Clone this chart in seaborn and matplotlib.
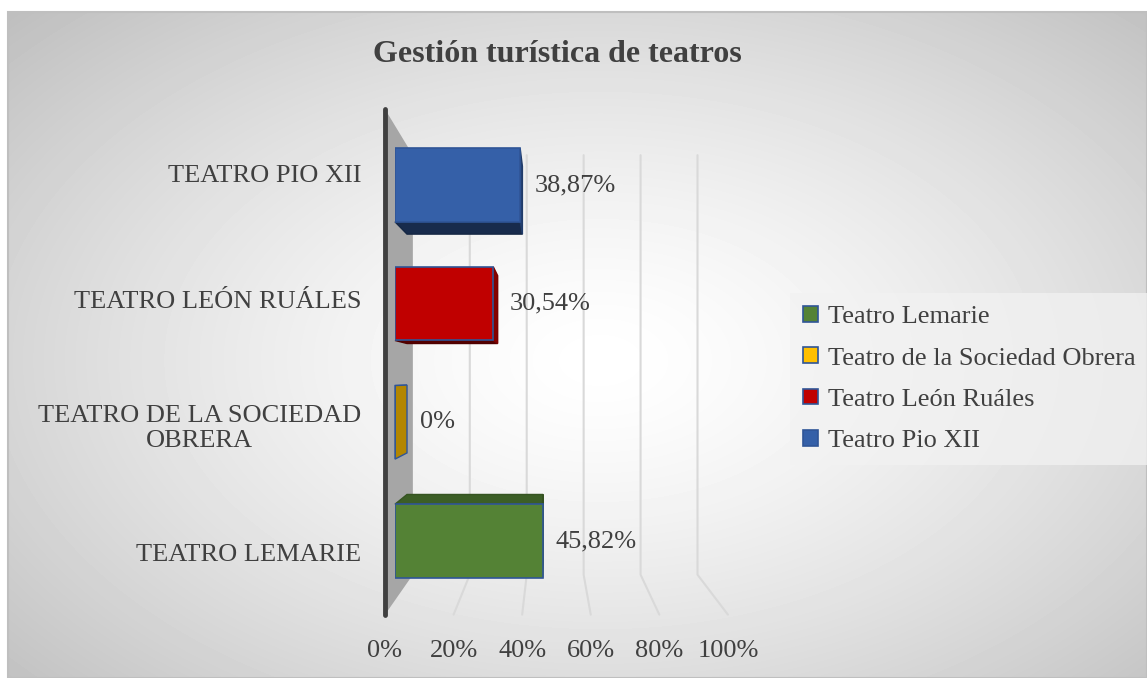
import numpy as np
import pandas as pd
import matplotlib
matplotlib.use("Agg")
import matplotlib.pyplot as plt
from matplotlib.patches import Polygon, Rectangle, Patch
from matplotlib.colors import to_rgb
import seaborn as sns

# datos del grafico
teatros = ["Teatro Lemarie", "Teatro de la Sociedad Obrera",
           "Teatro León Ruáles", "Teatro Pio XII"]
etiquetas = ["TEATRO LEMARIE", "TEATRO DE LA SOCIEDAD\nOBRERA",
             "TEATRO LEÓN RUÁLES", "TEATRO PIO XII"]
porcentajes = [45.82, 0.0, 30.54, 38.87]
textos = ["45,82%", "0%", "30,54%", "38,87%"]
colores = ["#548235", "#ffc000", "#c00000", "#3560a8"]
ticks = [0, 20, 40, 60, 80, 100]
tick_labels = ["0%", "20%", "40%", "60%", "80%", "100%"]

texto_color = "#404040"
borde = "#2f5597"

# perspectiva falsa (profundidades relativas al plano frontal de las barras)
xvp, yvp = 47.8, 1.64
s_front, s_bar_back, s_back = 1.065, 0.922, 0.884


def proj(x, y, s):
    return xvp + s * (x - xvp), yvp + s * (y - yvp)


def main():
    sns.set_style("white")
    plt.rcParams['font.family'] = ['Liberation Serif', 'DejaVu Serif']

    W, H = 1147, 678
    fig = plt.figure(figsize=(W / 100, H / 100), dpi=100)

    # 1. fondo con degradado radial
    bg = fig.add_axes([0, 0, 1, 1], zorder=-5)
    bg.set_xlim(0, W)
    bg.set_ylim(H, 0)
    bg.axis("off")
    xx, yy = np.meshgrid(np.arange(8, W), np.arange(12, H))
    cx, cy = 600, 360
    d = np.sqrt(((xx - cx) / 560.0) ** 2 + ((yy - cy) / 345.0) ** 2) / np.sqrt(2)
    val = (255 - 62 * np.clip(d, 0, 1.1) ** 1.4) / 255.0
    bg.imshow(val, cmap="gray", vmin=0, vmax=1, extent=(8, W, H, 12),
              aspect="auto", interpolation="bilinear")
    bg.add_patch(Rectangle((8, 12), W - 8, H - 12, fill=False,
                           edgecolor="#bfbfbf", lw=1.5))

    # 2. ejes principales (plano frontal de las barras)
    left = 395 / W
    width = 322 / W
    top_px, bot_px = 185 - 59.3, 541 + 59.3
    ax = fig.add_axes([left, 1 - bot_px / H, width, (bot_px - top_px) / H])
    ax.set_facecolor("none")

    df = pd.DataFrame({"teatro": teatros, "valor": porcentajes})
    orden = teatros[::-1]
    sns.barplot(data=df, x="valor", y="teatro", hue="teatro", order=orden,
                hue_order=teatros, palette=colores, saturation=1, width=0.62,
                orient="h", legend=False, edgecolor=borde, linewidth=1.2,
                ax=ax, zorder=4)
    ax.set_xlim(0, 100)
    ax.set_ylim(3.5, -0.5)
    ax.axis("off")

    # pared izquierda
    pared = [proj(0, -0.5, s_front), proj(0, -0.5, s_back),
             proj(0, 3.5, s_back), proj(0, 3.5, s_front)]
    ax.add_patch(Polygon(pared, closed=True, facecolor="#a6a6a6",
                         edgecolor="none", clip_on=False, zorder=1))
    (x1, y1), (x2, y2) = proj(0, -0.5, s_front), proj(0, 3.5, s_front)
    ax.plot([x1, x2], [y1, y2], color="#404040", lw=3.5,
            solid_capstyle="round", clip_on=False, zorder=5)

    # lineas de cuadricula (pared del fondo y suelo)
    for v in ticks[1:]:
        a = proj(v, -0.5, s_back)
        b = proj(v, 3.5, s_back)
        c = proj(v, 3.5, s_front)
        ax.plot([a[0], b[0], c[0]], [a[1], b[1], c[1]], color="#d9d9d9",
                lw=1.5, clip_on=False, zorder=0.5)

    # etiquetas del eje x
    for v, t in zip(ticks, tick_labels):
        px, py = proj(v, 3.5, s_front)
        ax.annotate(t, (px, py), xytext=(0, -26), textcoords="offset points",
                    ha="center", va="center", fontsize=19, color=texto_color,
                    annotation_clip=False)

    # etiquetas de categorias
    for i, teatro in enumerate(orden):
        lab = etiquetas[teatros.index(teatro)]
        px, py = proj(0, i, s_front)
        ax.annotate(lab, (px, py), xytext=(-17, -2.5), textcoords="offset points",
                    ha="right", va="center", multialignment="center",
                    fontsize=19, color=texto_color, annotation_clip=False)

    # caras laterales de las barras (efecto 3D)
    for p in list(ax.patches):
        if not isinstance(p, Rectangle):
            continue
        x0, w = p.get_x(), p.get_width()
        y0, h = p.get_y(), p.get_height()
        x1b, y1b = x0 + w, y0 + h
        col = np.array(to_rgb(p.get_facecolor()))
        caras = []
        if y0 > yvp:
            caras.append(([proj(x0, y0, 1), proj(x1b, y0, 1),
                           proj(x1b, y0, s_bar_back), proj(x0, y0, s_bar_back)], 0.72))
        if y1b < yvp:
            caras.append(([proj(x0, y1b, 1), proj(x1b, y1b, 1),
                           proj(x1b, y1b, s_bar_back), proj(x0, y1b, s_bar_back)], 0.45))
        if x1b < xvp:
            caras.append(([proj(x1b, y0, 1), proj(x1b, y0, s_bar_back),
                           proj(x1b, y1b, s_bar_back), proj(x1b, y1b, 1)], 0.7))
        for pts, f in caras:
            ax.add_patch(Polygon(pts, closed=True, facecolor=col * f,
                                 edgecolor=borde if w == 0 else col * f * 0.9,
                                 lw=1.0, clip_on=False, zorder=3))

        # etiqueta de datos
        yc = y0 + h / 2
        idx = orden[int(round(yc))]
        tx, _ = proj(x1b, yc, s_bar_back)
        ax.annotate(textos[teatros.index(idx)], (tx, yc), xytext=(9, 0),
                    textcoords="offset points", ha="left", va="center",
                    fontsize=19, color=texto_color, annotation_clip=False)

    # titulo
    fig.text(557 / W, 1 - 55 / H, "Gestión turística de teatros", ha="center",
             va="center", fontsize=23, fontweight="bold", color=texto_color)

    # leyenda
    handles = [Patch(facecolor=c, edgecolor=borde, lw=1.2) for c in colores]
    leg = fig.legend(handles, teatros, loc="center left",
                     bbox_to_anchor=(790 / W, 1 - 379 / H), borderaxespad=0,
                     fontsize=19, frameon=True, handlelength=0.55,
                     handleheight=0.55, handletextpad=0.4, labelspacing=0.72,
                     borderpad=0.5)
    leg.get_frame().set_facecolor("#f2f2f2")
    leg.get_frame().set_edgecolor("none")
    leg.get_frame().set_alpha(0.75)
    leg.get_frame().set_boxstyle("square", pad=0)
    for t in leg.get_texts():
        t.set_color(texto_color)

    fig.savefig("out.png", dpi=100)


if __name__ == "__main__":
    main()
